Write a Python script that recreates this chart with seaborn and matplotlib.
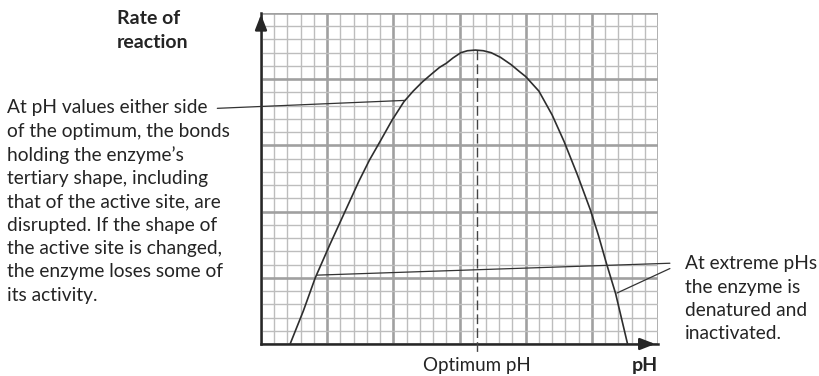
import numpy as np
import pandas as pd
import matplotlib
matplotlib.use("Agg")
import matplotlib.pyplot as plt
import seaborn as sns

# curve (units = small squares)
ph = [2.2, 3.2, 4.1, 5.2, 6.3, 7.4, 8.2, 9.0, 9.9, 10.8, 11.5, 12.2, 12.9, 13.5, 14.0,
      14.5, 15.1, 15.6, 16.2, 16.8, 17.4, 18.1, 18.9, 19.5, 20.0, 21.0, 22.0, 22.9,
      23.9, 24.9, 25.5, 26.1, 26.8, 27.7]
rate = [0, 2.5, 5.0, 7.5, 9.9, 12.3, 13.9, 15.3, 16.9, 18.3, 19.1, 19.8, 20.4, 20.9, 21.2,
        21.6, 22.0, 22.15, 22.2, 22.15, 22.0, 21.65, 21.1, 20.6, 20.2, 19.1, 17.3, 15.3,
        12.8, 10.1, 8.2, 6.1, 3.8, 0]
optimum_ph = 16.3
optimum_rate = 22.2

left_note = ["At pH values either side", "of the optimum, the bonds",
             "holding the enzyme\u2019s", "tertiary shape, including",
             "that of the active site, are", "disrupted. If the shape of",
             "the active site is changed,", "the enzyme loses some of",
             "its activity."]
right_note = ["At extreme pHs", "the enzyme is", "denatured and", "inactivated."]

# leader lines: (text end x, text end y) -> (point on curve)
left_leader = [(-3.3, 17.8), (10.9, 18.4)]
right_leaders = [[(30.9, 6.1), (4.2, 5.2)], [(30.9, 5.7), (26.9, 3.85)]]

sns.set_style("white")
plt.rcParams["font.family"] = ["Lato", "DejaVu Sans"]
txt = "#242424"

W, H = 819, 376
fig = plt.figure(figsize=(W / 100, H / 100), dpi=100)
ax = fig.add_axes([261 / W, (H - 344) / H, 397 / W, 331 / H])

df = pd.DataFrame({"ph": ph, "rate": rate})
sns.lineplot(data=df, x="ph", y="rate", sort=False, color="#2e2e2e", lw=1.2, ax=ax, zorder=5)

ax.set_xlim(0, 30)
ax.set_ylim(0, 25)
ax.set_xticks(np.arange(0, 31, 5))
ax.set_yticks(np.arange(0, 26, 5))
ax.set_xticks(np.arange(0, 31, 1), minor=True)
ax.set_yticks(np.arange(0, 26, 1), minor=True)
ax.grid(which="minor", color="#bdbdbd", lw=1.0)
ax.grid(which="major", color="#a0a0a0", lw=1.9)
ax.set_axisbelow(True)
ax.tick_params(which="both", length=0, labelbottom=False, labelleft=False)
ax.set_xlabel("")
ax.set_ylabel("")
for s in ["top", "right"]:
    ax.spines[s].set_visible(False)
for s in ["left", "bottom"]:
    ax.spines[s].set_color("#262626")
    ax.spines[s].set_linewidth(1.8)

# arrow heads on the axes
ax.annotate("", xy=(0, 25.1), xytext=(0, 23.5), annotation_clip=False,
            arrowprops=dict(arrowstyle="-|>,head_length=0.9,head_width=0.35", color="#262626", lw=1.8))
ax.annotate("", xy=(30.0, 0), xytext=(28.5, 0), annotation_clip=False,
            arrowprops=dict(arrowstyle="-|>,head_length=0.9,head_width=0.35", color="#262626", lw=1.8))

# dashed optimum line
ax.plot([optimum_ph, optimum_ph], [optimum_rate, -0.6], color="#444444", lw=1.0,
        dashes=(7, 3), clip_on=False, zorder=4)

# leader lines
ax.plot(*zip(*left_leader), color="#333333", lw=0.9, clip_on=False, zorder=6)
for seg in right_leaders:
    ax.plot(*zip(*seg), color="#333333", lw=0.9, clip_on=False, zorder=6)

def px(x, y):
    return x / W, 1 - y / H

fig.text(*px(117, 18), "Rate of", fontsize=14, fontweight="bold", color=txt, va="center")
fig.text(*px(117, 43), "reaction", fontsize=14, fontweight="bold", color=txt, va="center")

for i, line in enumerate(left_note):
    fig.text(*px(7, 108 + 23.4 * i), line, fontsize=13.8, color=txt, va="center")
for i, line in enumerate(right_note):
    fig.text(*px(685, 264 + 23.3 * i), line, fontsize=13.8, color=txt, va="center")

fig.text(*px(477, 365), "Optimum pH", fontsize=13.5, color=txt, ha="center", va="center")
fig.text(*px(645, 366), "pH", fontsize=14, fontweight="bold", color=txt, ha="center", va="center")

fig.savefig("out.png", dpi=100, facecolor="white")
